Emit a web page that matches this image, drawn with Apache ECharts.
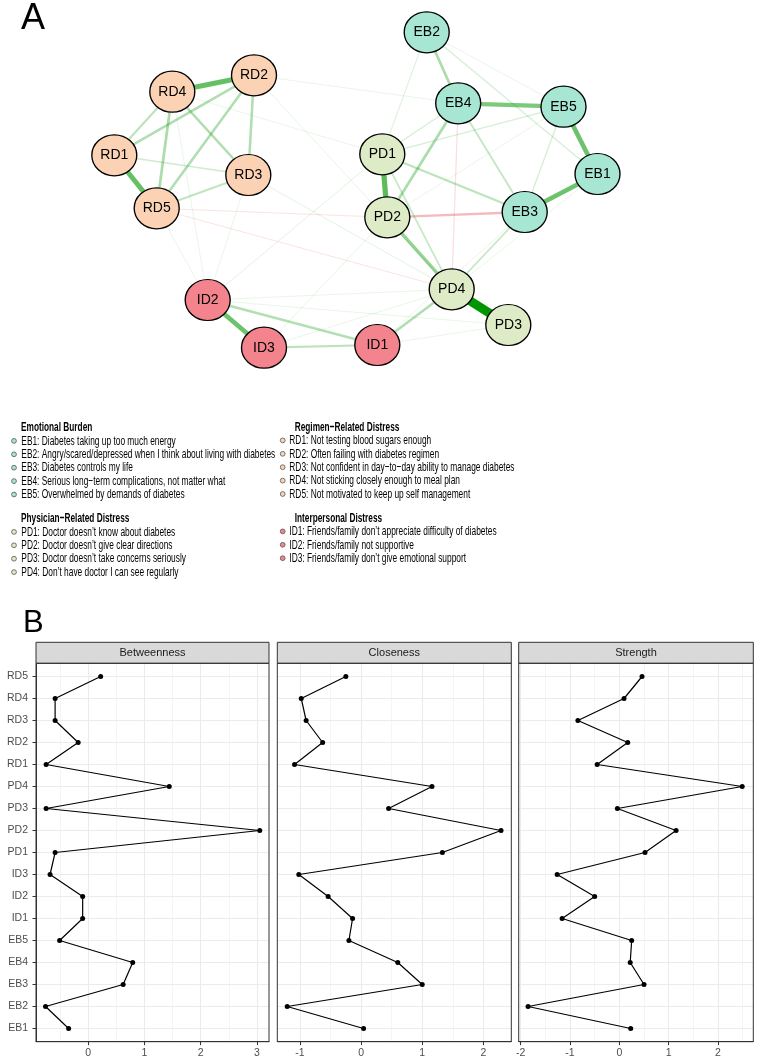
<!DOCTYPE html>
<html><head><meta charset="utf-8">
<script src="https://cdn.jsdelivr.net/npm/echarts@6/dist/echarts.min.js"></script>
<style>html,body{margin:0;padding:0;background:#fff}#c{width:762px;height:1062px}</style>
</head><body><div id="c"></div>
<script>
// ---------- Panel A: network ----------
const nodeNames  = ['EB1','EB2','EB3','EB4','EB5','PD1','PD2','PD3','PD4','RD1','RD2','RD3','RD4','RD5','ID1','ID2','ID3'];
const nodeGroups = ['EB','EB','EB','EB','EB','PD','PD','PD','PD','RD','RD','RD','RD','RD','ID','ID','ID'];
const nodeX = [597.5, 426.7, 524.7, 458.2, 563.5, 382.3, 387.3, 508.3, 451.7, 114.3, 254.0, 248.3, 172.3, 156.7, 377.3, 207.7, 264.0];
const nodeY = [174.0,  32.3, 212.0, 103.3, 106.7, 154.3, 217.3, 325.0, 289.3, 155.3,  75.3, 175.0,  91.7, 208.3, 345.0, 300.0, 347.7];
const groupColors = { EB: '#A8E6D4', PD: '#DDEBC6', RD: '#FBD3B4', ID: '#F3838C' };

const edgeFrom   = ['PD4','RD4','RD1','PD1','EB5','EB3','EB4','ID2','PD2','EB2','EB4','RD4','RD2','RD2','RD4','RD2','RD4','RD5','RD1','ID2','ID3','ID1','PD1','EB4','PD1','EB3','EB5','EB2','EB5','EB4','EB2','EB2','PD2','EB4','RD5','RD5','RD2','RD3','ID2','ID3','ID2','ID3','ID1','RD5','RD3','RD4','RD2','EB3','EB1','EB5','ID2','RD4'];
const edgeTo     = ['PD3','RD2','RD5','PD2','EB1','EB1','EB5','ID3','PD4','EB4','PD2','RD5','RD5','RD1','RD3','RD3','RD1','RD3','RD3','ID1','ID1','PD4','EB3','EB3','PD4','PD4','EB3','EB1','PD1','PD1','PD1','EB5','EB3','PD4','PD2','PD4','PD4','PD4','PD1','PD2','PD4','PD4','PD3','ID2','ID2','ID2','EB4','ID1','PD4','PD2','PD3','PD1'];
const edgeWeight = [1.00, 0.55, 0.55, 0.58, 0.52, 0.52, 0.47, 0.52, 0.38, 0.30, 0.30, 0.30, 0.28, 0.28, 0.28, 0.28, 0.24, 0.22, 0.17, 0.27, 0.24, 0.28, 0.24, 0.21, 0.20, 0.20, 0.15, 0.15, 0.15, 0.15, 0.12, 0.07, -0.26, -0.13, -0.11, -0.11, 0.10, 0.11, 0.11, 0.10, 0.08, 0.08, 0.07, 0.06, 0.06, 0.06, 0.05, 0.07, 0.06, 0.08, 0.05, 0.04];

// ---------- Panel A: legend ----------
const emotionalTitle = 'Emotional Burden';
const emotionalItems = ['EB1: Diabetes taking up too much energy','EB2: Angry/scared/depressed when I think about living with diabetes','EB3: Diabetes controls my life','EB4: Serious long\u2212term complications, not matter what','EB5: Overwhelmed by demands of diabetes'];
const physicianTitle = 'Physician\u2212Related Distress';
const physicianItems = ['PD1: Doctor doesn\u2019t know about diabetes','PD2: Doctor doesn\u2019t give clear directions','PD3: Doctor doesn\u2019t take concerns seriously','PD4: Don\u2019t have doctor I can see regularly'];
const regimenTitle = 'Regimen\u2212Related Distress';
const regimenItems = ['RD1: Not testing blood sugars enough','RD2: Often failing with diabetes regimen','RD3: Not confident in day\u2212to\u2212day ability to manage diabetes','RD4: Not sticking closely enough to meal plan','RD5: Not motivated to keep up self management'];
const interpersonalTitle = 'Interpersonal Distress';
const interpersonalItems = ['ID1: Friends/family don\u2019t appreciate difficulty of diabetes','ID2: Friends/family not supportive','ID3: Friends/family don\u2019t give emotional support'];

// ---------- Panel B: centrality ----------
const centralityNodes = ['EB1','EB2','EB3','EB4','EB5','ID1','ID2','ID3','PD1','PD2','PD3','PD4','RD1','RD2','RD3','RD4','RD5'];
const betweenness = [-0.35, -0.76, 0.62, 0.79, -0.51, -0.10, -0.10, -0.68, -0.59, 3.05, -0.75, 1.44, -0.75, -0.18, -0.59, -0.59, 0.22];
const closeness   = [ 0.04, -1.21, 1.00, 0.60, -0.20, -0.14, -0.54, -1.02,  1.33, 2.29,  0.45, 1.16, -1.09, -0.63, -0.90, -0.98, -0.25];
const strength    = [ 0.23, -1.85, 0.50, 0.22,  0.25, -1.16, -0.50, -1.26,  0.52, 1.15, -0.04, 2.49, -0.45,  0.17, -0.84, 0.095, 0.46];
const facetTitles = ['Betweenness','Closeness','Strength'];
const betweennessTicks = [0, 1, 2, 3];
const closenessTicks   = [-1, 0, 1, 2];
const strengthTicks    = [-2, -1, 0, 1, 2];
const betweennessMinor = [-0.5, 0.5, 1.5, 2.5];
const closenessMinor   = [-0.5, 0.5, 1.5];
const strengthMinor    = [-1.5, -0.5, 0.5, 1.5, 2.5];

// ---------- build ----------
const FONT = '"Liberation Sans", Arial, sans-serif';
const chart = echarts.init(document.getElementById('c'), null, { renderer: 'canvas' });

const minX = Math.min(...nodeX), maxX = Math.max(...nodeX);
const minY = Math.min(...nodeY), maxY = Math.max(...nodeY);

const links = edgeFrom.map((s, i) => ({ source: s, target: edgeTo[i], w: edgeWeight[i] }))
  .sort((a, b) => Math.abs(a.w) - Math.abs(b.w))
  .map(e => {
    const a = Math.max(0.1, Math.min(1, Math.abs(e.w) * 1.1));
    const col = e.w >= 0 ? `rgba(0,150,0,${a})` : `rgba(215,40,50,${Math.min(1, a * 1.1)})`;
    return { source: e.source, target: e.target, lineStyle: { width: Math.max(0.9, 9 * Math.abs(e.w)), color: col, opacity: 1, curveness: 0 } };
  });

// measure for condensed legend font
const LFS = 13.5;
const mctx = document.createElement('canvas').getContext('2d');
mctx.font = LFS + 'px "Liberation Sans"';
const itemScale = 254 / mctx.measureText(emotionalItems[1]).width;
mctx.font = 'bold ' + LFS + 'px "Liberation Sans"';
const headScale = 71.3 / mctx.measureText(emotionalTitle).width;

const graphic = [];
graphic.push({ type: 'text', x: 21, y: 19, style: { text: 'A', font: '36px ' + FONT, fill: '#000', verticalAlign: 'middle' } });
graphic.push({ type: 'text', x: 23, y: 623, style: { text: 'B', font: '31px ' + FONT, fill: '#000', verticalAlign: 'middle' } });

function legendBlock(title, items, group, hx, tx, bx, hy) {
  graphic.push({ type: 'text', x: hx, y: hy, scaleX: headScale, style: { text: title, font: 'bold ' + LFS + 'px ' + FONT, fill: '#000', verticalAlign: 'middle' } });
  items.forEach((t, i) => {
    const y = hy + 13.4 * (i + 1);
    graphic.push({ type: 'circle', shape: { cx: bx, cy: y, r: 2.4 }, style: { fill: groupColors[group], stroke: '#555', lineWidth: 0.8 } });
    graphic.push({ type: 'text', x: tx, y: y, scaleX: itemScale, style: { text: t, font: LFS + 'px ' + FONT, fill: '#000', verticalAlign: 'middle' } });
  });
}
legendBlock(emotionalTitle, emotionalItems, 'EB', 21, 21.3, 14, 427.5);
legendBlock(physicianTitle, physicianItems, 'PD', 21, 21.3, 14, 518.5);
legendBlock(regimenTitle, regimenItems, 'RD', 294.7, 289.3, 282.7, 427);
legendBlock(interpersonalTitle, interpersonalItems, 'ID', 294.7, 289.3, 282.7, 518);

// facets
const panelLeft = [36, 277.3, 518.7];
const panelWidth = [233, 234, 234.6];
const panelTop = 663.3, panelHeight = 378.4, stripTop = 642.3;
const xRanges = [[-0.930, 3.214], [-1.372, 2.458], [-2.040, 2.715]];
const majors = [betweennessTicks, closenessTicks, strengthTicks];
const minors = [betweennessMinor, closenessMinor, strengthMinor];
const values = [betweenness, closeness, strength];
const yIdx = centralityNodes.map((n, i) => i + 1);

const grids = [], xAxes = [], yAxes = [], lineSeries = [];
for (let p = 0; p < 3; p++) {
  grids.push({ left: panelLeft[p], top: panelTop, width: panelWidth[p], height: panelHeight, containLabel: false });
  graphic.push({ type: 'rect', shape: { x: panelLeft[p], y: stripTop, width: panelWidth[p], height: panelTop - stripTop }, style: { fill: '#D9D9D9', stroke: '#333', lineWidth: 1 }, z: 100 });
  graphic.push({ type: 'text', x: panelLeft[p] + panelWidth[p] / 2, y: (stripTop + panelTop) / 2 + 0.5, style: { text: facetTitles[p], font: '11px ' + FONT, fill: '#1A1A1A', align: 'center', verticalAlign: 'middle' }, z: 101 });
  graphic.push({ type: 'rect', shape: { x: panelLeft[p], y: panelTop, width: panelWidth[p], height: panelHeight }, style: { fill: 'none', stroke: '#333', lineWidth: 1 }, z: 100 });
  xAxes.push({
    type: 'value', gridIndex: p, min: xRanges[p][0], max: xRanges[p][1], position: 'bottom',
    axisLine: { show: true, onZero: false, lineStyle: { color: '#333', width: 1 } },
    axisTick: { show: true, length: 3.5, lineStyle: { color: '#333', width: 1 }, customValues: majors[p] },
    axisLabel: { show: true, customValues: majors[p], margin: 6, fontSize: 10.5, color: '#4D4D4D', fontFamily: FONT, formatter: v => String(v) },
    splitLine: { show: true, lineStyle: { color: '#EBEBEB', width: 1.1 } }
  });
  xAxes.push({
    type: 'value', gridIndex: p, min: xRanges[p][0], max: xRanges[p][1], position: 'top',
    axisLine: { show: false, onZero: false },
    axisTick: { show: false, customValues: minors[p] },
    axisLabel: { show: false },
    splitLine: { show: true, lineStyle: { color: '#EEEEEE', width: 0.6 } }
  });
  yAxes.push({
    type: 'value', gridIndex: p, min: 0.4, max: 17.6, position: 'left',
    axisLine: { show: p === 0, onZero: false, lineStyle: { color: '#333', width: 1 } },
    axisTick: { show: p === 0, length: 3.5, lineStyle: { color: '#333', width: 1 }, customValues: yIdx },
    axisLabel: { show: p === 0, customValues: yIdx, margin: 8, fontSize: 10.5, color: '#4D4D4D', fontFamily: FONT, formatter: v => centralityNodes[Math.round(v) - 1] || '' },
    splitLine: { show: true, lineStyle: { color: '#EBEBEB', width: 1.1 } }
  });
  lineSeries.push({
    type: 'line', xAxisIndex: p * 2, yAxisIndex: p,
    data: values[p].map((v, k) => [v, yIdx[k]]),
    symbol: 'circle', symbolSize: 5, showSymbol: true,
    lineStyle: { color: '#000', width: 1.2 }, itemStyle: { color: '#000' },
    silent: true, animation: false, z: 5
  });
}

const option = {
  backgroundColor: '#fff',
  animation: false,
  grid: grids, xAxis: xAxes, yAxis: yAxes,
  graphic: graphic,
  series: [
    {
      type: 'graph', layout: 'none', roam: false, silent: true,
      left: minX, top: minY, width: maxX - minX, height: maxY - minY,
      symbol: 'circle', symbolSize: [45, 41],
      label: { show: true, position: 'inside', fontSize: 14, color: '#000', fontFamily: FONT },
      itemStyle: { borderColor: '#000', borderWidth: 1.3 },
      emphasis: { disabled: true },
      data: nodeNames.map((n, i) => ({ name: n, x: nodeX[i], y: nodeY[i], itemStyle: { color: groupColors[nodeGroups[i]] } })),
      links: links,
      z: 2
    },
    ...lineSeries
  ]
};
chart.setOption(option);
</script></body></html>
